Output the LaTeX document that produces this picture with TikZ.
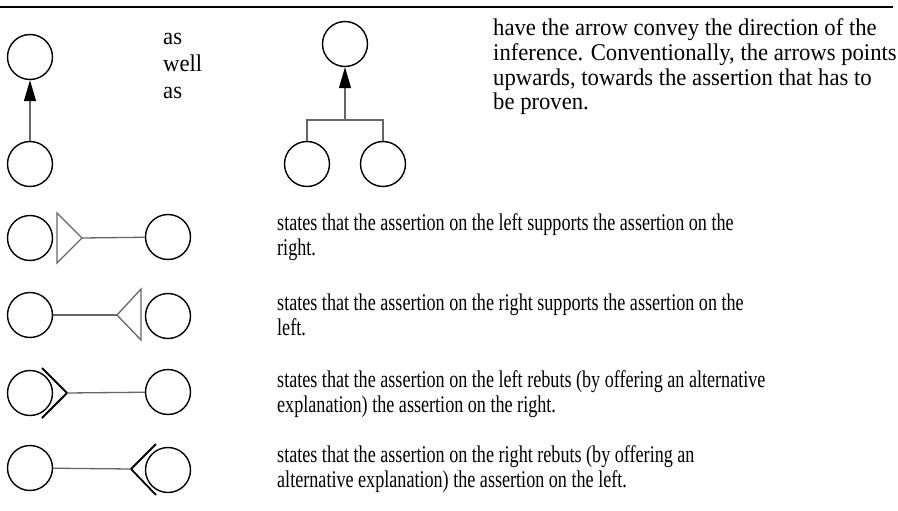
\documentclass[tikz,border=0pt]{standalone}
\usepackage{fontspec}
\setmainfont{Liberation Serif}
\newfontfamily\topfont[FakeStretch=0.945]{Liberation Serif}
\newfontfamily\botfont[FakeStretch=0.755]{Liberation Serif}
\usetikzlibrary{arrows.meta}
\begin{document}
\begin{tikzpicture}[x=1pt,y=-1pt,
  assert/.style={circle,draw=black,line width=1.4pt,minimum size=45pt,inner sep=0pt},
  conn/.style={draw=black!60,line width=1.3pt},
  uparrow/.style={-{Triangle[length=21pt,width=12pt,color=black]}},
  tri/.style={draw=black!60,line width=1.3pt,line join=miter},
  chev/.style={draw=black,line width=1.8pt,line join=miter},
  toppara/.style={anchor=base west,inner sep=0pt,align=left,font=\topfont\fontsize{24}{24.7}\selectfont},
  botpara/.style={anchor=base west,inner sep=0pt,align=left,font=\botfont\fontsize{24}{25}\selectfont}]
\useasboundingbox (0,0) rectangle (898,511);
\draw[line width=1.3pt] (0,7) -- (893,7);

% single inference
\node[assert] (a1) at (30,57) {};
\node[assert] (a2) at (30,164) {};
\draw[conn,uparrow] (a2) -- (a1);

% (anchor base = baseline of the last line)
\node[toppara] (aswell) at (163,99) {as\\[2.3pt]well\\[2.3pt]as};

% joint inference
\node[assert] (b1) at (345,44) {};
\node[assert] (b2) at (307,164) {};
\node[assert] (b3) at (383,164) {};
\coordinate (j) at (345,120);
\draw[conn] (b2) |- (j) -| (b3);
\draw[conn,uparrow] (j) -- (b1);

\node[toppara] (desc0) at (493,110) {have the arrow convey the direction of the\\inference. Conventionally, the arrows points\\upwards, towards the assertion that has to\\be proven.};

% left supports right
\node[assert] (c1) at (30,238) {};
\node[assert] (c2) at (168,237) {};
\coordinate (t1) at (82,238);
\draw[tri] (57,213) -- (t1) -- (57,263) -- cycle;
\draw[conn] (t1) -- (c2);
\node[botpara] (desc1) at (277,255) {states that the assertion on the left supports the assertion on the\\right.};

% right supports left
\node[assert] (d1) at (30,315) {};
\node[assert] (d2) at (168,316) {};
\coordinate (t2) at (117,315);
\draw[tri] (141,289) -- (t2) -- (141,340) -- cycle;
\draw[conn] (d1) -- (t2);
\node[botpara] (desc2) at (277,335) {states that the assertion on the right supports the assertion on the\\left.};

% left rebuts right
\node[assert] (e1) at (30,393) {};
\node[assert] (e2) at (168,392) {};
\coordinate (t3) at (67,393);
\draw[chev] (42,368) -- (t3) -- (42,418);
\draw[conn] (t3) -- (e2);
\node[botpara] (desc3) at (277,412) {states that the assertion on the left rebuts (by offering an alternative\\explanation) the assertion on the right.};

% right rebuts left
\node[assert] (f1) at (30,468) {};
\node[assert] (f2) at (168,470) {};
\coordinate (t4) at (131,469);
\draw[chev] (156,444) -- (t4) -- (156,495);
\draw[conn] (f1) -- (t4);
\node[botpara] (desc4) at (277,487) {states that the assertion on the right rebuts (by offering an\\alternative explanation) the assertion on the left.};
\end{tikzpicture}
\end{document}
